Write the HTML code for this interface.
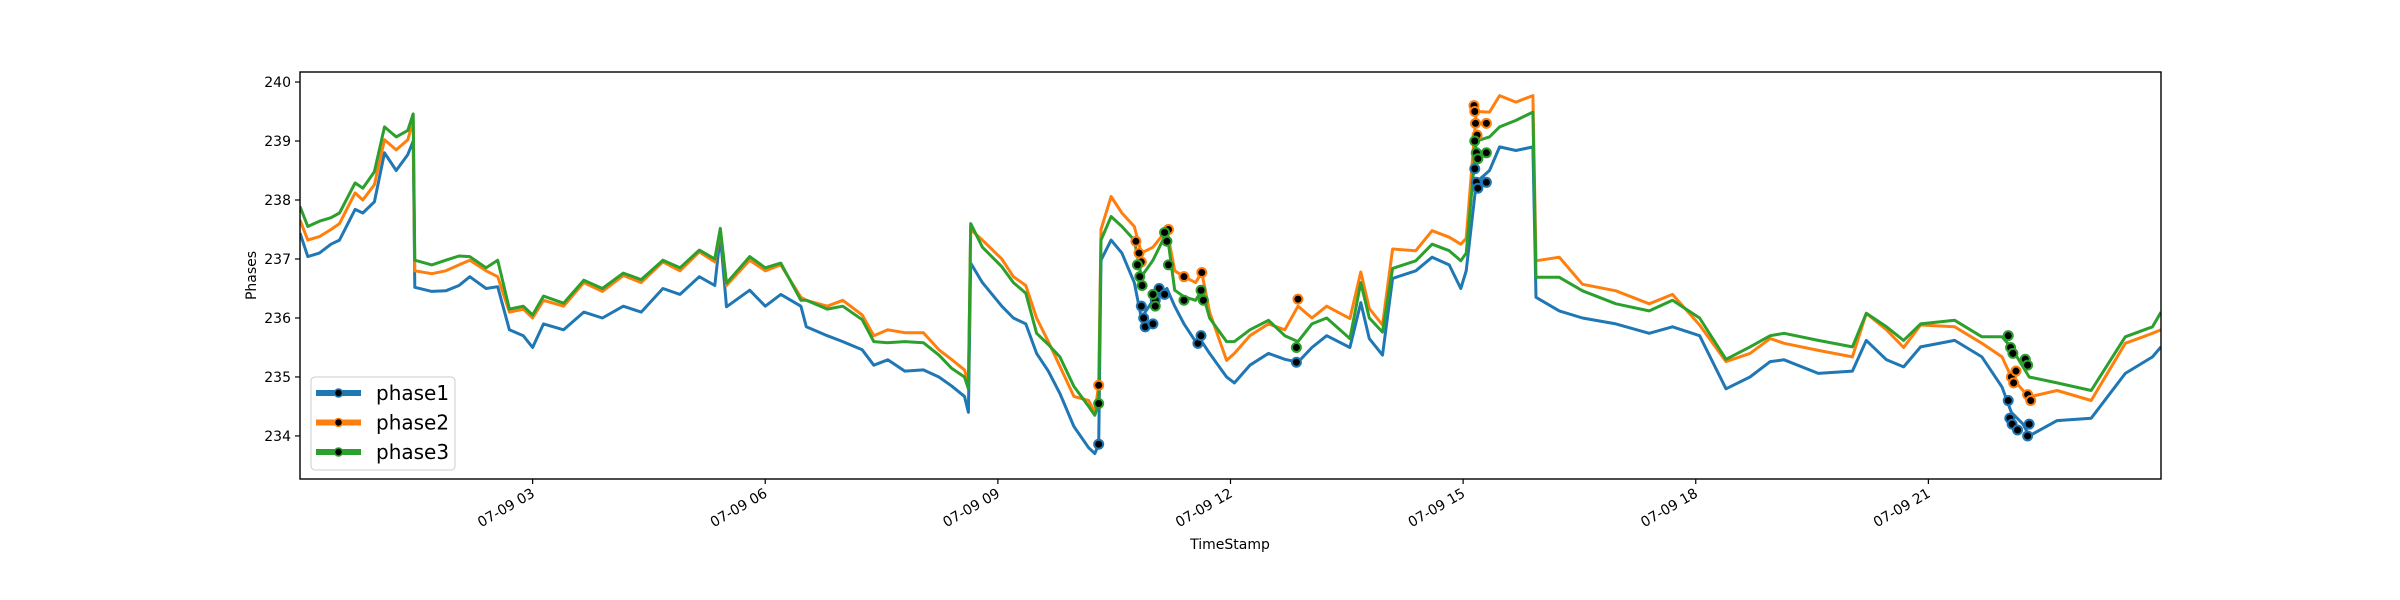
<!DOCTYPE html>
<html><head><meta charset="utf-8"><style>
html,body{margin:0;padding:0;background:#fff;}
svg{display:block;font-family:"DejaVu Sans","Liberation Sans",sans-serif;}
</style></head><body>
<svg id="chart" width="2400" height="600" viewBox="0 0 2400 600" xmlns="http://www.w3.org/2000/svg">
<rect x="0" y="0" width="2400" height="600" fill="#fff"/>
<g id="plot"></g>
</svg>
<script>
const hours = [0.00,0.10,0.25,0.40,0.51,0.71,0.81,0.96,1.09,1.24,1.39,1.46,1.48,1.70,1.88,2.05,2.19,2.40,2.55,2.70,2.88,3.00,3.14,3.40,3.66,3.90,4.17,4.40,4.68,4.90,5.15,5.35,5.42,5.50,5.80,6.00,6.20,6.46,6.53,6.80,7.00,7.25,7.40,7.58,7.80,8.04,8.24,8.40,8.57,8.62,8.65,8.80,9.05,9.20,9.36,9.50,9.65,9.80,9.98,10.17,10.25,10.30,10.33,10.46,10.60,10.76,10.85,11.00,11.18,11.28,11.40,11.55,11.63,11.73,11.95,12.05,12.25,12.49,12.70,12.87,13.05,13.24,13.54,13.68,13.79,13.96,14.09,14.39,14.60,14.82,14.97,15.04,15.17,15.34,15.47,15.68,15.90,15.94,16.24,16.54,16.97,17.40,17.70,18.05,18.39,18.70,18.96,19.14,19.58,20.02,20.20,20.46,20.68,20.90,21.34,21.69,21.95,22.07,22.22,22.30,22.66,23.10,23.54,23.89,24.00];
const phase1 = [237.44,237.04,237.10,237.25,237.32,237.84,237.78,237.97,238.80,238.50,238.77,239.00,236.52,236.45,236.46,236.55,236.70,236.50,236.53,235.80,235.70,235.50,235.90,235.80,236.10,236.00,236.20,236.10,236.50,236.40,236.70,236.55,237.40,236.19,236.47,236.20,236.40,236.20,235.85,235.70,235.60,235.46,235.20,235.29,235.10,235.12,235.00,234.85,234.67,234.40,236.93,236.60,236.20,236.00,235.90,235.40,235.10,234.72,234.16,233.80,233.70,233.86,236.98,237.32,237.10,236.60,236.00,236.30,236.50,236.20,235.90,235.60,235.60,235.40,235.00,234.90,235.20,235.40,235.30,235.25,235.50,235.70,235.50,236.26,235.65,235.37,236.67,236.80,237.03,236.90,236.50,236.80,238.30,238.50,238.90,238.84,238.90,236.35,236.12,236.00,235.90,235.74,235.85,235.70,234.80,235.00,235.26,235.29,235.06,235.10,235.62,235.29,235.17,235.51,235.62,235.34,234.83,234.40,234.20,234.00,234.26,234.30,235.06,235.34,235.51];
const phase2 = [237.66,237.32,237.38,237.50,237.60,238.12,238.00,238.26,239.02,238.85,239.02,239.35,236.80,236.75,236.80,236.90,236.98,236.80,236.70,236.10,236.15,236.00,236.30,236.20,236.60,236.45,236.72,236.60,236.95,236.80,237.12,236.95,237.50,236.55,236.98,236.80,236.90,236.35,236.30,236.20,236.30,236.05,235.70,235.80,235.75,235.75,235.46,235.30,235.12,234.90,237.50,237.32,237.00,236.70,236.55,236.00,235.60,235.18,234.67,234.60,234.40,234.86,237.50,238.06,237.78,237.55,237.10,237.20,237.50,236.80,236.70,236.60,236.77,236.10,235.28,235.40,235.70,235.90,235.80,236.20,236.00,236.20,235.99,236.78,236.16,235.88,237.17,237.14,237.48,237.37,237.25,237.35,239.50,239.49,239.77,239.66,239.77,236.97,237.03,236.57,236.46,236.24,236.40,235.88,235.26,235.40,235.65,235.57,235.45,235.34,236.08,235.80,235.50,235.88,235.85,235.57,235.34,235.00,234.77,234.66,234.77,234.60,235.57,235.74,235.80];
const phase3 = [237.89,237.55,237.64,237.70,237.78,238.29,238.20,238.48,239.24,239.07,239.18,239.46,236.98,236.90,236.98,237.05,237.04,236.85,236.98,236.15,236.20,236.05,236.37,236.25,236.64,236.50,236.76,236.65,236.98,236.85,237.15,237.00,237.52,236.59,237.04,236.85,236.93,236.30,236.30,236.15,236.20,235.97,235.60,235.58,235.60,235.58,235.37,235.15,235.00,234.80,237.60,237.20,236.87,236.60,236.42,235.74,235.55,235.34,234.84,234.50,234.35,234.55,237.32,237.72,237.55,237.32,236.70,236.98,237.46,236.47,236.36,236.30,236.47,236.00,235.60,235.60,235.80,235.96,235.70,235.60,235.90,236.00,235.65,236.60,236.00,235.76,236.84,236.97,237.25,237.14,236.97,237.10,239.00,239.07,239.24,239.35,239.49,236.69,236.69,236.46,236.24,236.12,236.30,236.00,235.30,235.51,235.70,235.74,235.62,235.51,236.08,235.85,235.62,235.90,235.96,235.68,235.68,235.50,235.17,235.00,234.90,234.77,235.68,235.85,236.10];
const marker1Hours = [10.30,10.85,10.88,10.90,11.00,11.03,11.08,11.15,11.58,11.62,12.85,15.15,15.17,15.19,15.30,22.03,22.05,22.08,22.15,22.28,22.30];
const marker1Values = [233.86,236.20,236.00,235.85,235.90,236.30,236.50,236.40,235.57,235.70,235.25,238.53,238.30,238.20,238.30,234.60,234.30,234.20,234.10,234.00,234.20];
const marker2Hours = [10.30,10.78,10.82,10.85,11.20,11.40,11.63,12.87,15.14,15.15,15.16,15.18,15.30,22.07,22.10,22.13,22.28,22.32];
const marker2Values = [234.86,237.30,237.10,236.95,237.50,236.70,236.77,236.32,239.60,239.50,239.30,239.10,239.30,235.00,234.90,235.10,234.70,234.60];
const marker3Hours = [10.30,10.80,10.83,10.86,11.00,11.03,11.15,11.18,11.20,11.40,11.62,11.65,12.85,15.15,15.17,15.19,15.30,22.03,22.06,22.09,22.25,22.28];
const marker3Values = [234.55,236.90,236.70,236.55,236.40,236.20,237.45,237.30,236.90,236.30,236.47,236.30,235.50,239.00,238.80,238.70,238.80,235.70,235.50,235.40,235.30,235.20];
const yTicks = [234,235,236,237,238,239,240];
const xTickHours = [3,6,9,12,15,18,21];
const xTickLabels = ["07-09 03","07-09 06","07-09 09","07-09 12","07-09 15","07-09 18","07-09 21"];
const seriesNames = ["phase1","phase2","phase3"];

const L=300,R=2161,T=72,B=479;
const X0=0,X1=24,Y0=233.27,Y1=240.17;
function sx(h){return L+(h-X0)/(X1-X0)*(R-L);}
function sy(v){return B-(v-Y0)/(Y1-Y0)*(B-T);}
const NS="http://www.w3.org/2000/svg";
const plot=document.getElementById('plot');
function mk(tag,attrs,parent){const e=document.createElementNS(NS,tag);for(const k in attrs)e.setAttribute(k,attrs[k]);(parent||plot).appendChild(e);return e;}
const colors=["#1f77b4","#ff7f0e","#2ca02c"];
const seriesVals=[phase1,phase2,phase3];
const mh=[marker1Hours,marker2Hours,marker3Hours], mv=[marker1Values,marker2Values,marker3Values];

const clip=mk('clipPath',{id:'pc'});
mk('rect',{x:L,y:T,width:R-L,height:B-T},clip);

for(let s=0;s<3;s++){
  let d='';
  for(let i=0;i<hours.length;i++){d+=(i?'L':'M')+sx(hours[i]).toFixed(1)+' '+sy(seriesVals[s][i]).toFixed(1);}
  const p=mk('path',{d:d,fill:'none',stroke:colors[s],'stroke-width':3,'stroke-linejoin':'round','clip-path':'url(#pc)'});
  
  
}
for(let s=0;s<3;s++){
  for(let i=0;i<mh[s].length;i++){
    const c=mk('circle',{cx:sx(mh[s][i]),cy:sy(mv[s][i]),r:4.5,fill:'#000',stroke:colors[s],'stroke-width':2});
    
    
  }
}
// axes frame
const fr=mk('rect',{x:L,y:T,width:R-L,height:B-T,fill:'none',stroke:'#000','stroke-width':1.4});


// y ticks
for(const v of yTicks){
  const y=sy(v);
  const tl=mk('line',{x1:L-5,x2:L,y1:y,y2:y,stroke:'#000','stroke-width':1.2});
  
  
  const t=mk('text',{x:L-9,y:y+5,'text-anchor':'end','font-size':14,fill:'#000'});
  t.textContent=v;
  
  
}
for(let i=0;i<xTickHours.length;i++){
  const x=sx(xTickHours[i]);
  const tl=mk('line',{x1:x,x2:x,y1:B,y2:B+5,stroke:'#000','stroke-width':1.2});
  
  
  const t=mk('text',{transform:'translate('+(x+3)+','+(B+17)+') rotate(-30)','text-anchor':'end','font-size':14,fill:'#000'});
  t.textContent=xTickLabels[i];
  
  
}
const xt=mk('text',{x:1230,y:549,'text-anchor':'middle','font-size':14,fill:'#000'});
xt.textContent='TimeStamp';


const yt=mk('text',{transform:'translate(256,'+((T+B)/2)+') rotate(-90)','text-anchor':'middle','font-size':14,fill:'#000'});
yt.textContent='Phases';


// legend
const lg=mk('g',{});


mk('rect',{x:311,y:377,width:144,height:93,rx:4,fill:'#fff','fill-opacity':0.8,stroke:'#ccc','stroke-width':1},lg);
for(let s=0;s<3;s++){
  const y=393+s*29.5;
  const e=mk('g',{},lg);
  
  
  mk('line',{x1:316,x2:361,y1:y,y2:y,stroke:colors[s],'stroke-width':6},e);
  mk('circle',{cx:338.5,cy:y,r:4,fill:'#000',stroke:colors[s],'stroke-width':1.5},e);
  const t=mk('text',{x:376,y:y+7,'font-size':20,fill:'#000'},e);
  t.textContent=seriesNames[s];
}
</script>
</body></html>
